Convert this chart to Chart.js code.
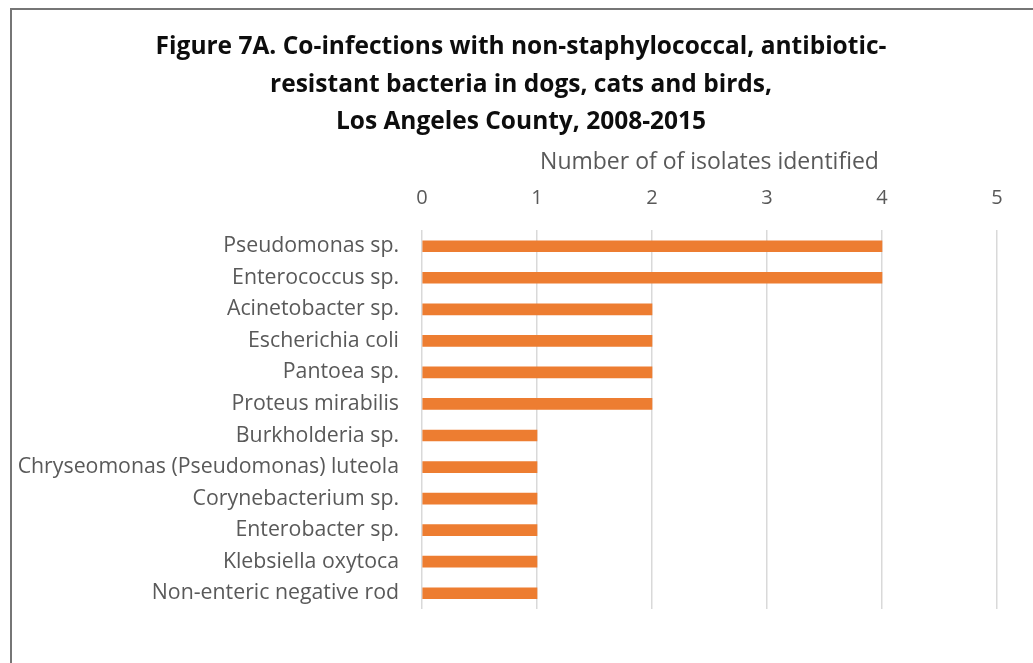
<!DOCTYPE html>
<html>
<head>
<meta charset="utf-8">
<script src="https://cdn.jsdelivr.net/npm/chart.js@4.4.1/dist/chart.umd.min.js"></script>
<style>
  html, body { margin: 0; padding: 0; background: #fff; overflow: hidden; }
  #wrap { position: relative; width: 1033px; height: 663px; }
  #frame { position: absolute; left: 10px; top: 8px; width: 1100px; height: 700px; border: 2px solid #767676; box-sizing: border-box; }
  #c { position: absolute; left: 0; top: 0; }
</style>
</head>
<body>
<div id="wrap">
  <div id="frame"></div>
  <canvas id="c" width="1033" height="663"></canvas>
</div>
<script>
const titleLines = [
  "Figure 7A. Co-infections with non-staphylococcal, antibiotic-",
  "resistant bacteria in dogs, cats and birds,",
  "Los Angeles County, 2008-2015"
];
const axisTitle = "Number of of isolates identified";
const categories = [
  "Pseudomonas sp.",
  "Enterococcus sp.",
  "Acinetobacter sp.",
  "Escherichia coli",
  "Pantoea sp.",
  "Proteus mirabilis",
  "Burkholderia sp.",
  "Chryseomonas (Pseudomonas) luteola",
  "Corynebacterium sp.",
  "Enterobacter sp.",
  "Klebsiella oxytoca",
  "Non-enteric negative rod"
];
const isolateCounts = [4, 4, 2, 2, 2, 2, 1, 1, 1, 1, 1, 1];
const axisMin = 0;
const axisMax = 5;
const axisStep = 1;

const FONT = "'Open Sans', Lato, 'Liberation Sans', sans-serif";

// let the category labels extend into the left padding (no clipping)
const unclipLabels = {
  id: 'unclipLabels',
  afterLayout(chart) { chart.scales.y.left = 0; }
};

new Chart(document.getElementById('c'), {
  type: 'bar',
  data: {
    labels: categories,
    datasets: [{
      data: isolateCounts,
      backgroundColor: '#ED7D31',
      borderWidth: 0,
      barThickness: 11
    }]
  },
  plugins: [unclipLabels],
  options: {
    indexAxis: 'y',
    responsive: false,
    animation: false,
    layout: { padding: { top: 0, right: 36, bottom: 54, left: 45 } },
    plugins: {
      legend: { display: false },
      tooltip: { enabled: false },
      title: {
        display: true,
        text: titleLines,
        color: '#0d0d0d',
        font: { family: FONT, size: 24.5, weight: 'bold', lineHeight: 1.53 },
        padding: { top: 28.5, bottom: 0 }
      }
    },
    scales: {
      x: {
        position: 'top',
        min: axisMin,
        max: axisMax,
        ticks: {
          stepSize: axisStep,
          color: '#595959',
          font: { family: FONT, size: 20 },
          padding: 20
        },
        grid: { color: '#d9d9d9', lineWidth: 1.5, drawTicks: false },
        border: { display: false },
        title: {
          display: true,
          text: axisTitle,
          color: '#595959',
          font: { family: FONT, size: 23 },
          padding: { top: 8, bottom: 0 }
        },
        afterFit: (s) => { s.height = 89.5; }
      },
      y: {
        ticks: {
          color: '#595959',
          font: { family: FONT, size: 21.3 },
          padding: 23,
          autoSkip: false
        },
        grid: { display: false, drawTicks: false },
        border: { display: false },
        afterFit: (s) => { s.width = 377; }
      }
    }
  }
});
</script>
</body>
</html>
